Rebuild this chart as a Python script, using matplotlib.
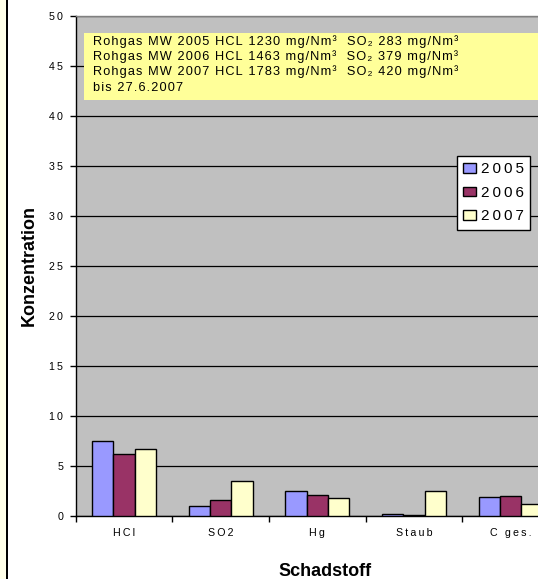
import numpy as np
import matplotlib
matplotlib.use("Agg")
import matplotlib.pyplot as plt
from matplotlib.patches import Rectangle

plt.rcParams['font.family'] = ['Liberation Sans', 'DejaVu Sans']

categories = ["HCl", "SO2", "Hg", "Staub", "C ges."]
years = ["2005", "2006", "2007"]
v2005 = [7.53, 1.0, 2.47, 0.2, 1.87]
v2006 = [6.2, 1.57, 2.07, 0.1, 1.97]
v2007 = [6.7, 3.5, 1.77, 2.47, 1.2]
yticks = list(range(0, 51, 5))
note_lines = [
    "Rohgas MW 2005 HCL 1230 mg/Nm³  SO₂ 283 mg/Nm³",
    "Rohgas MW 2006 HCL 1463 mg/Nm³  SO₂ 379 mg/Nm³",
    "Rohgas MW 2007 HCL 1783 mg/Nm³  SO₂ 420 mg/Nm³",
    "bis 27.6.2007",
]
colors = ["#9999FF", "#993366", "#FFFFCC"]

W, H = 538, 579


def spaced(s, gap="\u2009"):
    """Letter-spaced text, as Excel draws it."""
    return gap.join(s)


fig = plt.figure(figsize=(W / 100, H / 100), dpi=100)
fig.patch.set_facecolor("white")

# decorative strip on the left edge
fig.patches.append(Rectangle((0, 0), 6 / W, 1, transform=fig.transFigure,
                             facecolor="#FFFFE8", edgecolor="none"))
fig.patches.append(Rectangle((6 / W, 0), 2 / W, 1, transform=fig.transFigure,
                             facecolor="black", edgecolor="none"))

left, right, top, bottom = 75.7, 559.0, 16.0, 516.0
ax = fig.add_axes([left / W, 1 - bottom / H, (right - left) / W, (bottom - top) / H])
ax.set_facecolor("#C0C0C0")

x = np.arange(len(categories))
bw = 0.22
series = [v2005, v2006, v2007]
for i, (vals, col, lab) in enumerate(zip(series, colors, years)):
    ax.bar(x + (i - 1) * bw, vals, bw, color=col, edgecolor="black",
           linewidth=1.0, label=spaced(lab), zorder=3)

ax.set_xlim(-0.5, len(categories) - 0.5)
ax.set_ylim(0, 50)
ax.set_yticks(yticks)
ax.set_yticklabels([spaced(str(t)) for t in yticks], fontsize=7.7)
ax.yaxis.grid(True, color="black", linewidth=0.9, zorder=1)
ax.set_axisbelow(True)
ax.tick_params(axis="y", length=4, width=1, pad=5, direction="out")

ax.set_xticks(x)
ax.set_xticklabels([spaced(c) for c in categories], fontsize=7.7)
ax.tick_params(axis="x", which="major", length=0, pad=9)
ax.set_xticks(np.arange(-0.5, len(categories)), minor=True)
ax.tick_params(axis="x", which="minor", length=4, width=1, direction="out")

for s in ["left", "bottom"]:
    ax.spines[s].set_color("black")
    ax.spines[s].set_linewidth(1.0)
for s in ["top", "right"]:
    ax.spines[s].set_color("#808080")
    ax.spines[s].set_linewidth(1.0)

ax.set_ylabel("Konzentration", fontsize=13, fontweight="bold")
ax.yaxis.label.set_va("center")
ax.yaxis.set_label_coords((29 - left) / (right - left), 0.5)
fig.text(325 / W, 1 - 571 / H, "Schadstoff", fontsize=13, fontweight="bold",
         ha="center", va="center")

# note box with raw-gas averages
fig.patches.append(Rectangle((84 / W, 1 - 100 / H), (545 - 84) / W, 67 / H,
                             transform=fig.transFigure, facecolor="#FFFF99",
                             edgecolor="none", zorder=5))
for k, line in enumerate(note_lines):
    fig.text(93 / W, 1 - (45.0 + 15.2 * k) / H, spaced(line, "\u200a"),
             fontsize=9.2, ha="left", va="baseline", zorder=6)

leg = ax.legend(loc="upper left", bbox_to_anchor=(456.7 / W, 1 - 156 / H),
                bbox_transform=fig.transFigure, borderaxespad=0,
                fancybox=False, framealpha=1, edgecolor="black",
                fontsize=11, handlelength=0.85, handleheight=0.55,
                handletextpad=0.3, labelspacing=0.62, borderpad=0.42)
leg.get_frame().set_linewidth(1.0)

fig.savefig("out.png", dpi=100)
